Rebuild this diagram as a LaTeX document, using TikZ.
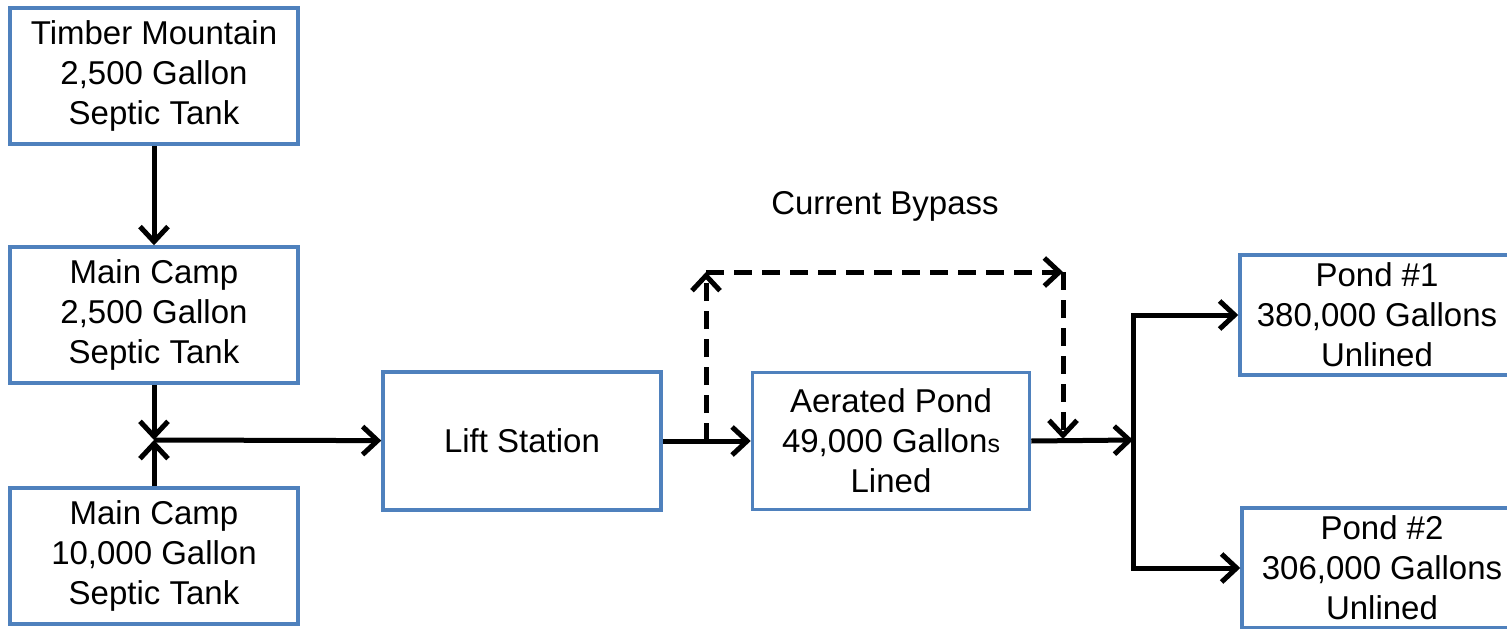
\documentclass[tikz,border=0pt]{standalone}
\usepackage{fontspec}
\setmainfont{Liberation Sans}
\usepackage{xcolor}
\usetikzlibrary{arrows.meta,positioning,calc}
\definecolor{boxblue}{RGB}{79,129,189}

\begin{document}
\begin{tikzpicture}[x = 1pt, y = -1pt,
    tank/.style = {draw = boxblue, line width = 3.5pt, align = center, inner sep = 0pt,
      minimum width = 288pt, minimum height = 136pt, font = \fontsize{33}{40}\selectfont},
    pond/.style = {tank, minimum width = 277pt, minimum height = 137pt},
    flow/.style = {line width = 5pt, -{Straight Barb[length = 15pt, width = 28pt]}},
    bypass/.style = {flow, dash pattern = on 18pt off 10pt}]
  \useasboundingbox (0,0) rectangle (1507,629);
  \clip (0,0) rectangle (1507,629);
    \node[tank] (tm) at (154,76) {Timber Mountain\\2,500 Gallon\\Septic Tank};
    \node[tank] (mc2) at (154,315) {Main Camp\\2,500 Gallon\\Septic Tank};
    \node[tank] (mc10) at (154,556) {Main Camp\\10,000 Gallon\\Septic Tank};
    \node[pond, minimum width = 278pt, minimum height = 138pt] (lift) at (522,441) {Lift Station};
    \node[pond] (aer) at (891,441) {Aerated Pond\\49,000 Gallon{\fontsize{25}{40}\selectfont s}\\Lined};
    \node[pond, minimum width = 274pt, minimum height = 120pt] (p1) at (1377,315) {Pond \#1\\380,000 Gallons\\Unlined};
    \node[pond, minimum width = 280pt, minimum height = 120pt] (p2) at (1382,568) {Pond \#2\\306,000 Gallons\\Unlined};
    \coordinate (jn) at (154,440);
    \coordinate (sp) at (1133,440);
    \coordinate (bp0) at (706,441);
    \coordinate (bp1) at (706,272);
    \coordinate (bp2) at (1063,272);
    \coordinate (bp3) at (1063,439);
    \draw[flow] (tm) -- (mc2);
    \draw[flow] (mc2) -- (jn);
    \draw[flow] (mc10) -- (jn);
    \draw[flow] (jn) -- (lift);
    \draw[flow] (lift) -- (aer);
    \draw[flow] (aer.east) -- (sp);
    \draw[flow] (sp) |- (p1.west);
    \draw[flow] (sp) |- (p2.west);
    % Bypass
    \draw[bypass] (bp0) -- (bp1);
    \draw[bypass] (bp1) -- (bp2);
    \draw[bypass] (bp2) -- (bp3);
    \node[font = \fontsize{33}{40}\selectfont] (cb) at (885,206) {Current Bypass};
  \end{tikzpicture}
\end{document}
